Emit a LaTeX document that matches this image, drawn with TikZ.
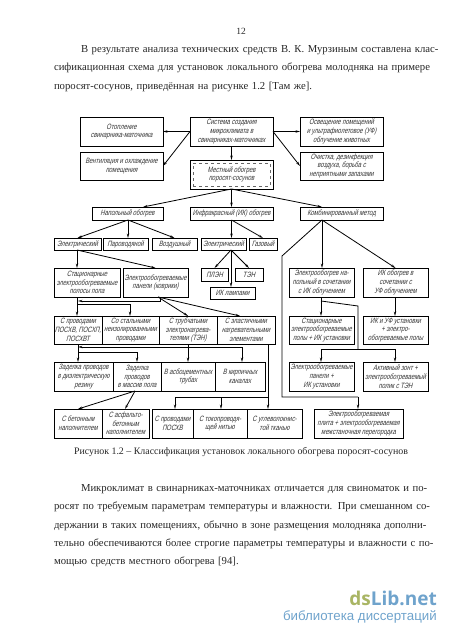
\documentclass[tikz,border=0pt]{standalone}
\usepackage{fontspec}
\setmainfont{Liberation Serif}
\newfontfamily\gostfont[FakeStretch=0.76,FakeSlant=0.25]{Liberation Sans}
\newfontfamily\wmfont{Open Sans}
\newfontfamily\wmsubfont{Liberation Sans}
\usetikzlibrary{arrows.meta}
\definecolor{wmblue}{HTML}{6FA3CC}
\definecolor{wmgreen}{HTML}{A9B564}
\tikzset{
  gostbox/.style={draw=black,line width=0.9pt,inner sep=0pt,outer sep=0pt,align=center,
    text=black!80,font=\gostfont\fontsize{7.7}{8.7}\selectfont},
  conn/.style={line width=0.8pt,draw=black},
  arr/.style={conn,-{Stealth[length=4.5pt,width=2.4pt]}},
  pagetext/.style={inner sep=0pt,outer sep=0pt,text width=374pt,
    font=\fontsize{10.7}{18.35}\selectfont,text=black!85}
}
% box from its corners: name, x1, y1, x2, y2, text
\newcommand{\gbox}[6]{\node[gostbox,minimum width={(#4-#2)*1pt},minimum height={(#5-#3)*1pt}] (#1) at ({(#2+#4)/2},{(#3+#5)/2}) {#6};}
% one full justified line of page text
\newcommand{\jline}[1]{\hbox to 374pt{#1}}
\begin{document}
\begin{tikzpicture}[x=1pt,y=-1pt]
\useasboundingbox (0,0) rectangle (450,637);
% page text
\node[inner sep=0pt,font=\fontsize{9.5}{11}\selectfont,text=black!85,anchor=base] (pagenum) at (241,34) {12};
\node[pagetext,anchor=north west] (parone) at (54,45.5) {\jline{\hspace*{27pt}В результате анализа технических средств В. К. Мурзиным составлена клас-}
\jline{сификационная схема для установок локального обогрева молодняка на примере}
\hbox{поросят-сосунов, приведённая на рисунке 1.2 [Там же].}};
\node[inner sep=0pt,font=\fontsize{9.9}{12}\selectfont,text=black!85,anchor=base] (figcap) at (241,454) {Рисунок 1.2 – Классификация установок локального обогрева поросят-сосунов};
\node[pagetext,anchor=north west] (partwo) at (54,484.5) {\jline{\hspace*{27pt}Микроклимат в свинарниках-маточниках отличается для свиноматок и по-}
\jline{росят по требуемым параметрам температуры и влажности. При смешанном со-}
\jline{держании в таких помещениях, обычно в зоне размещения молодняка дополни-}
\jline{тельно обеспечиваются более строгие параметры температуры и влажности с по-}
\hbox{мощью средств местного обогрева [94].}};
% upper boxes
\gbox{otop}{80}{117}{163}{146}{Отопление\\свинарника-маточника}
\gbox{sys}{190}{117}{273}{146}{Система создания\\микроклимата в\\свинарниках-маточниках}
\gbox{osv}{300}{117}{383}{146}{Освещение помещений\\и ультрафиолетовое (УФ)\\облучение животных}
\gbox{vent}{80}{152}{163}{180}{Вентиляция и охлаждение\\помещения}
\gbox{och}{300}{152}{383}{180}{Очистка, дезинфекция\\воздуха, борьба с\\неприятными запахами}
\gbox{mest}{190}{160}{273}{189}{Местный обогрев\\поросят-сосунов}
\node[draw=black!60,dashed,line width=0.5pt,inner sep=0pt,minimum width=77pt,minimum height=23pt] (mestin) at (mest.center) {};
\gbox{nap}{92}{207}{163}{220}{Напольный обогрев}
\gbox{ikr}{190}{207}{273}{220}{Инфракрасный (ИК) обогрев}
\gbox{komb}{300}{207}{383}{220}{Комбинированный метод}
% heater types
\gbox{elone}{54}{238}{101}{250}{Электрический}
\gbox{par}{103}{238}{148}{250}{Пароводяной}
\gbox{vozd}{152}{238}{197}{250}{Воздушный}
\gbox{eltwo}{201}{238}{246}{250}{Электрический}
\gbox{gaz}{249}{238}{277}{250}{Газовый}
\gbox{stac}{54}{268}{120}{297}{Стационарные\\электрообогреваемые\\полосы пола}
\gbox{pan}{123}{268}{188}{297}{Электрообогреваемые\\панели (коврики)}
\gbox{plen}{201}{268}{228}{281}{ПЛЭН}
\gbox{ten}{235}{268}{263}{281}{ТЭН}
\gbox{lamp}{210}{287}{255}{299}{ИК лампами}
\gbox{elik}{289}{268}{354}{297}{Электрообогрев на-\\польный в сочетании\\с ИК облучением}
\gbox{ikuf}{363}{268}{428}{297}{ИК обогрев в\\сочетании с\\УФ облучением}
% wires row
\gbox{prov}{54}{316}{102}{344}{С проводами\\ПОСХВ, ПОСХП,\\ПОСХВТ}
\gbox{stal}{102}{316}{159}{344}{Со стальными\\неизолированными\\проводами}
\gbox{trub}{159}{316}{217}{344}{С трубчатыми\\электронагрева-\\телями (ТЭН)}
\gbox{elast}{217}{316}{275}{344}{С эластичными\\нагревательными\\элементами}
\gbox{stik}{289}{316}{354}{344}{Стационарные\\электрообогреваемые\\полы + ИК установки}
\gbox{ikpol}{363}{316}{428}{344}{ИК и УФ установки\\+ электро-\\обогреваемые полы}
% laying row
\gbox{diel}{54}{362}{113}{391}{Заделка проводов\\в диэлектрическую\\резину}
\gbox{mass}{113}{362}{161}{391}{Заделка\\проводов\\в массив пола}
\gbox{asb}{161}{362}{215}{391}{В асбоцементных\\трубах}
\gbox{kirp}{215}{362}{265}{391}{В кирпичных\\каналах}
\gbox{panik}{289}{362}{354}{391}{Электрообогреваемые\\панели +\\ИК установки}
\gbox{akt}{363}{362}{428}{391}{Активный зонт +\\электрообогреваемый\\полик с ТЭН}
% bottom row
\gbox{bet}{54}{409}{102}{438}{С бетонным\\наполнителем}
\gbox{asf}{102}{409}{149}{438}{С асфальто-\\бетонным\\наполнителем}
\gbox{posh}{152}{409}{193}{438}{С проводами\\ПОСХВ}
\gbox{nit}{193}{409}{247}{438}{С токопроводя-\\щей нитью}
\gbox{ugl}{247}{409}{302}{438}{С углеволокнис-\\той тканью}
\gbox{plit}{314}{409}{403}{438}{Электрообогреваемая\\плита + электрообогреваемая\\межстаночная перегородка}
% junctions
\coordinate (kombout) at (322,220);
\coordinate (bendk) at (282,256);
\coordinate (busk) at (282,397);
\coordinate (busplit) at (358,397);
\coordinate (elikout) at (321,301);
\coordinate (bendik) at (358,306);
\coordinate (busr) at (358,349);
\coordinate (busfl) at (77,304);
\coordinate (buspan) at (160,301);
\coordinate (buslo) at (78,347);
\coordinate (buslt) at (78,352);
\coordinate (busend) at (242,347);
\coordinate (busnit) at (175,397);
\coordinate (busel) at (268,397);
% upper connectors
\draw[arr] (sys.west) -- (otop.east);
\draw[arr] (sys.west) -- (vent.east);
\draw[arr] (sys.east) -- (osv.west);
\draw[arr] (sys.east) -- (och.west);
\draw[arr] (sys.south) -- (mest.north);
\draw[arr] (mest.south) -- (143,207);
\draw[arr] (mest.south) -- (ikr.north);
\draw[arr] (mest.south) -- (322,207);
% types
\draw[arr] (128,220) -- (elone.north);
\draw[arr] (128,220) -- (128,238);
\draw[arr] (128,220) -- (vozd.north);
\draw[arr] (ikr.south) -- (231.5,238);
\draw[arr] (ikr.south) -- (gaz.north);
\draw[conn] (kombout) -- (bendk) -- (busk) -- (busplit);
\draw[arr] (busplit) -- (busplit |- plit.north);
\draw[arr] (kombout) -- (kombout |- elik.north);
\draw[arr] (kombout) -- (ikuf.north);
% left branch
\draw[arr] (77,250) -- (77,268);
\draw[arr] (77,250) -- (pan.north);
\draw[arr] (231,250) -- (plen.north);
\draw[arr] (231,250) -- (231,287);
\draw[arr] (231,250) -- (ten.north);
\draw[arr] (77,297) -- (77,316);
\draw[arr] (buspan |- pan.south) -- (buspan) -- (78,301);
\draw[arr] (busfl) -- (130,304) -- (130,316);
\draw[arr] (158,297) -- (188,316);
\draw[arr] (158,297) -- (240,316);
% wires to laying
\draw[arr] (78,344) -- (buslo |- diel.north);
\draw[arr] (buslt) -- (137,352) -- (137,362);
\draw[arr] (188,344) -- (188,362);
\draw[arr] (busend) -- (buslo);
\draw[arr] (busend) -- (busend |- kirp.north);
\draw[arr] (135,391) -- (78,409);
\draw[arr] (135,391) -- (125,409);
% elastic to bottom row
\draw[arr] (268,344) -- (busel |- ugl.north);
\draw[conn] (busel) -- (busnit);
\draw[arr] (busnit) -- (busnit |- posh.north);
\draw[arr] (221,397) -- (221,409);
% right branch
\draw[arr] (321,297) -- (321,316);
\draw[conn] (elikout) -- (bendik) -- (busr);
\draw[conn] (321,349) -- (395,349);
\draw[arr] (321,349) -- (321,362);
\draw[arr] (395,349) -- (395,362);
\draw[arr] (395,297) -- (395,316);
% watermark
\node[inner sep=0pt,anchor=base east,font=\wmfont\bfseries\fontsize{19}{20}\selectfont,text=wmblue] (wmlogo) at (437,605) {\textcolor{wmgreen}{ds}Lib.net};
\node[inner sep=0pt,anchor=base east,font=\wmsubfont\fontsize{13.3}{14}\selectfont,text=wmblue] (wmsub) at (437,620) {библиотека диссертаций};
\end{tikzpicture}
\end{document}
